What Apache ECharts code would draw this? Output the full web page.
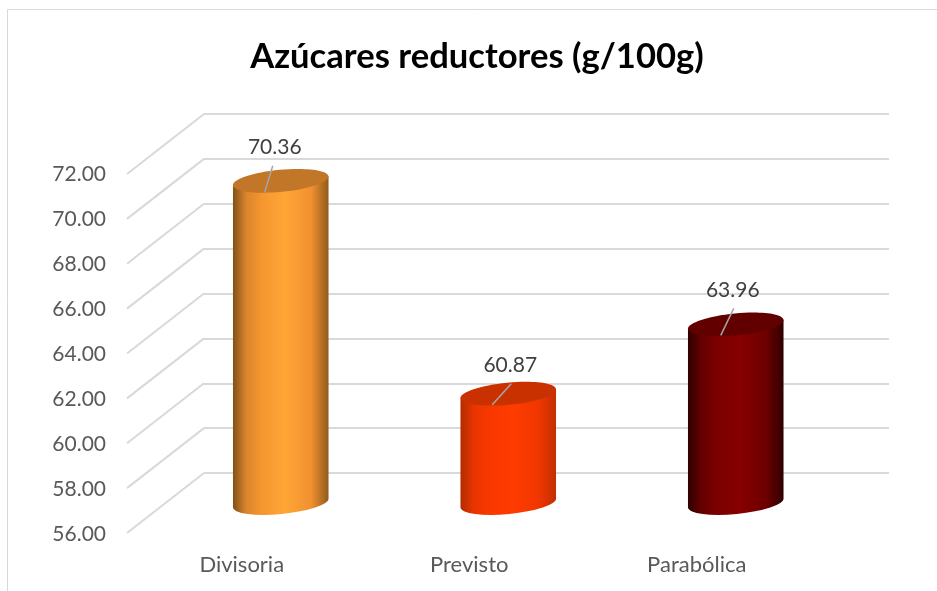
<!DOCTYPE html>
<html><head><meta charset="utf-8">
<style>html,body{margin:0;padding:0;background:#fff}#c{width:937px;height:591px}</style>
<script src="https://cdn.jsdelivr.net/npm/echarts@6/dist/echarts.min.js"></script>
</head><body><div id="c"></div>
<script>
const titleText = 'Azúcares reductores (g/100g)';
const categories = ['Divisoria', 'Previsto', 'Parabólica'];
const values = [70.36, 60.87, 63.96];
const axisMin = 56, axisMax = 72, axisStep = 2;
const ticks = [56, 58, 60, 62, 64, 66, 68, 70, 72];

const palettes = [
  { stops: ['#80501a', '#d9852c', '#f5962f', '#ffa636', '#f09030', '#8f5a1c'], top: '#c27627' },
  { stops: ['#b02c00', '#e83400', '#f83800', '#ff3c00', '#f03600', '#c03000'], top: '#c93200' },
  { stops: ['#2e0000', '#640000', '#7c0000', '#860000', '#6c0000', '#2e0000'], top: '#620000' }
];
const stopAt = [0, 0.14, 0.3, 0.55, 0.82, 1];
const labelShift = [[-6, -34], [2, -28], [-3, -34]];
const leaderEnds = [[[-16, 11], [-8, -15]], [[-16, 11], [3, -10]], [[-15, 11], [-2, -16]]];

const RX = 48, RY = 11, TILT = 5.5 * Math.PI / 180;

function renderCylinder(params, api) {
  const i = api.value(0);
  const top = api.coord([i, api.value(1)]);
  const base = api.coord([i, axisMin]);
  const p = palettes[i];
  const dx = RX * Math.cos(TILT), dy = RX * Math.sin(TILT);
  const deg = -TILT * 180 / Math.PI;
  const body = `M${top[0]-dx} ${top[1]+dy} L${base[0]-dx} ${base[1]+dy} ` +
    `A${RX} ${RY} ${deg} 0 0 ${base[0]+dx} ${base[1]-dy} L${top[0]+dx} ${top[1]-dy} Z`;
  const lead = leaderEnds[i];
  return {
    type: 'group',
    children: [
      { type: 'path',
        shape: { pathData: body },
        style: { fill: new echarts.graphic.LinearGradient(0, 0, 1, 0,
          stopAt.map((o, k) => ({ offset: o, color: p.stops[k] }))) } },
      { type: 'ellipse',
        shape: { cx: 0, cy: 0, rx: RX, ry: RY },
        x: top[0], y: top[1], rotation: TILT,
        style: { fill: p.top } },
      { type: 'line',
        shape: { x1: top[0]+lead[0][0], y1: top[1]+lead[0][1], x2: top[0]+lead[1][0], y2: top[1]+lead[1][1] },
        style: { stroke: '#a6a6a6', lineWidth: 1.5 } },
      { type: 'text',
        x: top[0] + labelShift[i][0], y: top[1] + labelShift[i][1],
        style: { text: api.value(1).toFixed(2), fill: '#404040', font: '21px Lato', align: 'center', verticalAlign: 'middle' } }
    ]
  };
}

function renderDiagonal(params, api) {
  const p = api.coord([0, api.value(0)]);
  return { type: 'line',
    shape: { x1: p[0], y1: p[1], x2: p[0] - 77, y2: p[1] + 60 },
    style: { stroke: '#d9d9d9', lineWidth: 2 } };
}

const chart = echarts.init(document.getElementById('c'), null, { renderer: 'canvas' });
chart.setOption({
  animation: false,
  backgroundColor: '#fff',
  title: { text: titleText, left: 472, top: 34, textAlign: 'center',
    textStyle: { fontFamily: 'Lato', fontSize: 34.6, fontWeight: 'bold', color: '#000' } },
  graphic: [
    { type: 'polyline', silent: true, shape: { points: [[7.5, 591], [7.5, 9.5], [937, 9.5]] },
      style: { stroke: '#d9d9d9', lineWidth: 1, fill: null } }
  ],
  grid: [
    { left: 167, width: 682.5, top: 144, height: 359 },
    { left: 128, width: 682.5, top: 174, height: 360 },
    { left: 204, width: 685, top: 114, height: 359 }
  ],
  xAxis: [
    { gridIndex: 0, type: 'category', data: categories, show: false },
    { gridIndex: 1, type: 'category', data: categories,
      axisLine: { show: false }, axisTick: { show: false },
      axisLabel: { margin: 20, color: '#595959', fontFamily: 'Lato', fontSize: 22 } },
    { gridIndex: 2, type: 'value', min: 0, max: 1, show: false }
  ],
  yAxis: [
    { gridIndex: 0, type: 'value', min: axisMin, max: axisMax, interval: axisStep, show: false },
    { gridIndex: 1, type: 'value', min: axisMin, max: axisMax, interval: axisStep,
      axisLine: { show: false }, axisTick: { show: false }, splitLine: { show: false },
      axisLabel: { margin: 22, color: '#595959', fontFamily: 'Lato', fontSize: 21,
        formatter: v => v.toFixed(2) } },
    { gridIndex: 2, type: 'value', min: axisMin, max: axisMax, interval: axisStep,
      axisLine: { show: false }, axisTick: { show: false }, axisLabel: { show: false },
      splitLine: { show: true, lineStyle: { color: '#d9d9d9', width: 2 } } }
  ],
  series: [
    { type: 'custom', xAxisIndex: 2, yAxisIndex: 2, silent: true, z: 1,
      data: ticks.map(t => [t]), encode: { y: 0 }, renderItem: renderDiagonal },
    { type: 'custom', xAxisIndex: 0, yAxisIndex: 0, silent: true, z: 5,
      data: values.map((v, i) => [i, v]), encode: { x: 0, y: 1 }, renderItem: renderCylinder, clip: false }
  ]
});
</script></body></html>
